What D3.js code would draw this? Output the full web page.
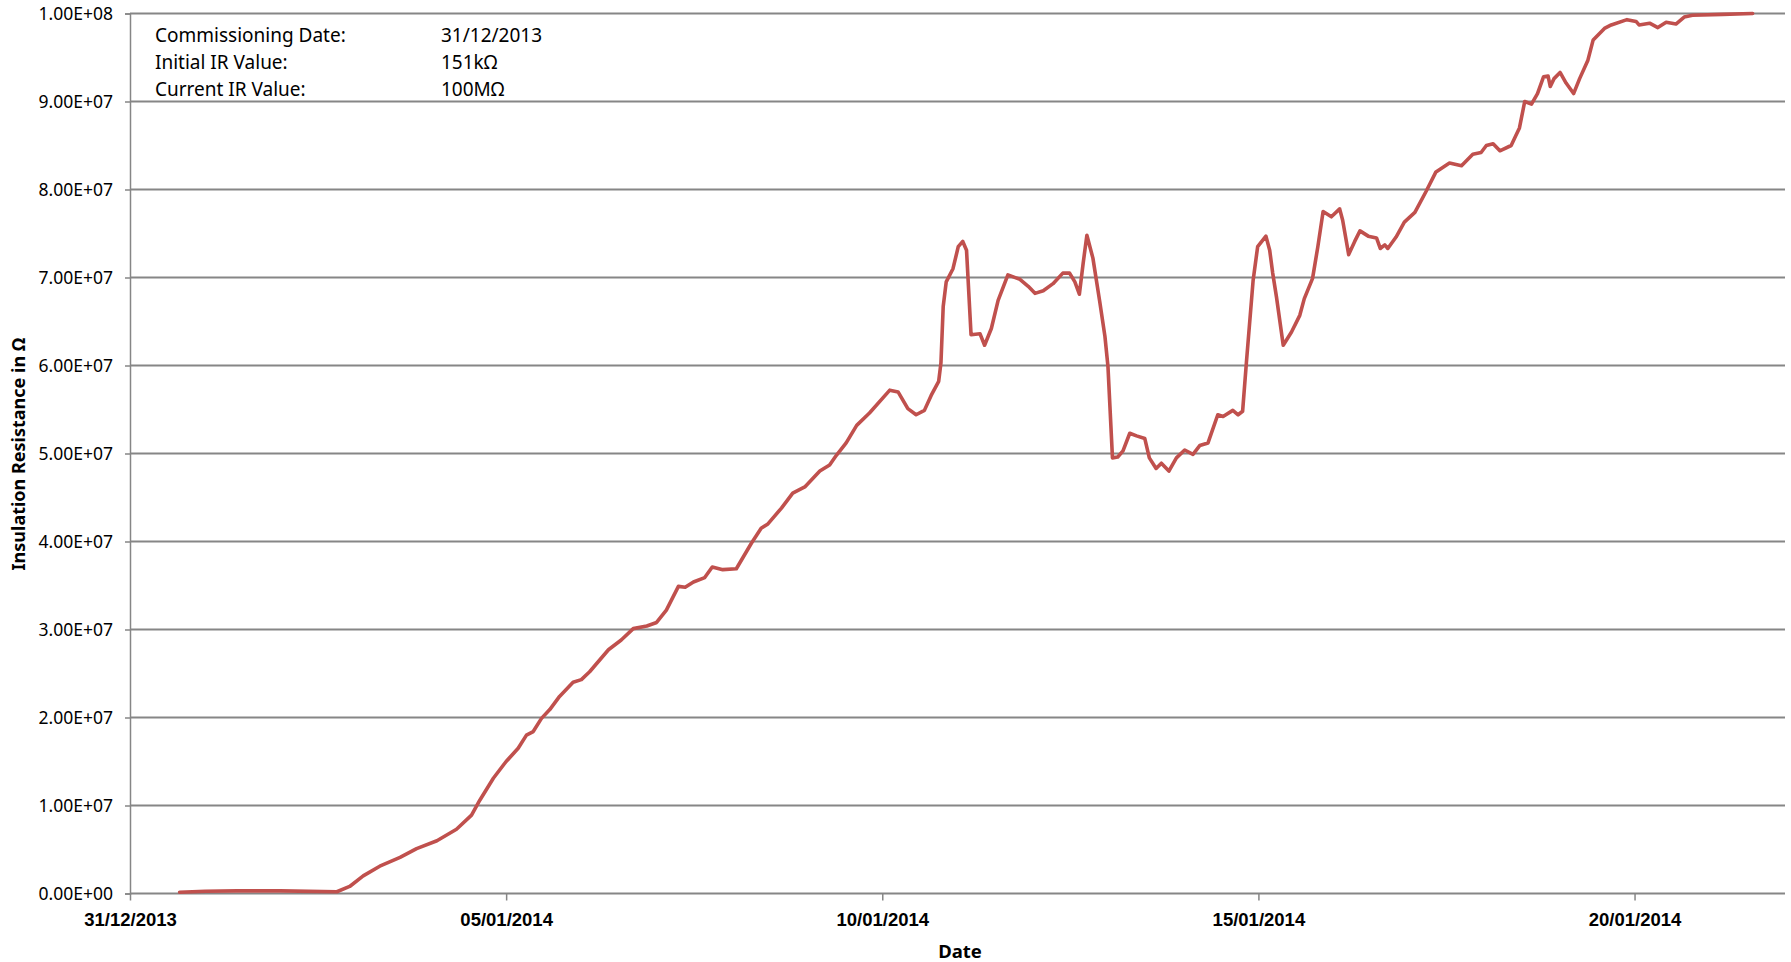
<!DOCTYPE html>
<html>
<head>
<meta charset="utf-8">
<script src="https://cdn.jsdelivr.net/npm/d3@7"></script>
<style>
  html, body { margin: 0; padding: 0; background: #fff; }
  svg { display: block; font-family: "Noto Sans", "Open Sans", sans-serif; }
</style>
</head>
<body>
<svg id="chart" width="1791" height="962"></svg>
<script>
// days after commissioning (31/12/2013 00:00) and insulation resistance in MΩ
const dayOffsets = [
  0.66, 1.0, 1.42, 2.0, 2.75, 2.92, 3.10, 3.32, 3.59, 3.81, 4.08, 4.34, 4.54, 4.65, 4.83,
  5.00, 5.16, 5.27, 5.36, 5.47, 5.58, 5.71, 5.89, 6.00, 6.11, 6.36, 6.53, 6.69, 6.87, 7.00,
  7.13, 7.29, 7.38, 7.49, 7.64, 7.74, 7.88, 8.06, 8.26, 8.39, 8.48, 8.66, 8.81, 8.97, 9.17,
  9.30, 9.39, 9.52, 9.66, 9.83, 10.10, 10.21, 10.34, 10.45, 10.56, 10.65, 10.75, 10.78, 10.81, 10.85,
  10.94, 11.01, 11.07, 11.12, 11.18, 11.30, 11.36, 11.45, 11.54, 11.67, 11.83, 11.94, 12.03, 12.14, 12.27,
  12.40, 12.49, 12.56, 12.62, 12.67, 12.72, 12.80, 12.89, 12.96, 13.00, 13.06, 13.13, 13.20, 13.29, 13.38,
  13.49, 13.55, 13.64, 13.71, 13.81, 13.91, 14.02, 14.13, 14.22, 14.33, 14.46, 14.53, 14.66, 14.73, 14.79,
  14.84, 14.93, 14.99, 15.10, 15.15, 15.19, 15.24, 15.33, 15.44, 15.55, 15.61, 15.72, 15.79, 15.86, 15.97,
  16.08, 16.12, 16.20, 16.28, 16.35, 16.46, 16.57, 16.62, 16.68, 16.72, 16.83, 16.94, 17.08, 17.23, 17.36,
  17.54, 17.70, 17.85, 17.96, 18.03, 18.12, 18.21, 18.36, 18.41, 18.47, 18.54, 18.63, 18.71, 18.79, 18.85,
  18.88, 18.93, 19.01, 19.09, 19.19, 19.27, 19.38, 19.45, 19.60, 19.69, 19.90, 20.02, 20.06, 20.20, 20.31,
  20.42, 20.55, 20.66, 20.77, 21.17, 21.57
];
const irMOhm = [
  0.15, 0.25, 0.3, 0.3, 0.2, 0.8, 2.0, 3.1, 4.1, 5.1, 6.0, 7.3, 8.9, 10.6, 13.1,
  15.0, 16.5, 18.0, 18.4, 19.9, 20.9, 22.4, 24.0, 24.3, 25.2, 27.7, 28.8, 30.1, 30.4, 30.8,
  32.2, 34.9, 34.8, 35.4, 35.9, 37.1, 36.8, 36.9, 39.8, 41.5, 42.0, 43.8, 45.5, 46.2, 48.0,
  48.7, 49.8, 51.2, 53.2, 54.6, 57.2, 57.0, 55.1, 54.4, 54.9, 56.6, 58.2, 60.3, 66.7, 69.5,
  71.0, 73.5, 74.1, 73.1, 63.5, 63.6, 62.3, 64.2, 67.4, 70.3, 69.8, 69.0, 68.2, 68.5, 69.3,
  70.5, 70.5, 69.5, 68.1, 71.6, 74.8, 72.2, 67.3, 63.3, 59.9, 49.5, 49.6, 50.3, 52.3, 52.0,
  51.7, 49.5, 48.3, 48.9, 48.0, 49.5, 50.4, 49.9, 50.9, 51.2, 54.4, 54.2, 54.9, 54.4, 54.8,
  60.3, 69.7, 73.5, 74.7, 73.1, 70.5, 67.8, 62.3, 63.8, 65.7, 67.6, 69.9, 73.5, 77.5, 76.9,
  77.8, 76.5, 72.6, 74.1, 75.3, 74.7, 74.5, 73.3, 73.7, 73.3, 74.6, 76.3, 77.4, 79.8, 82.0,
  83.0, 82.7, 84.0, 84.2, 85.0, 85.2, 84.4, 85.0, 85.9, 87.0, 90.0, 89.7, 90.9, 92.8, 92.9,
  91.7, 92.6, 93.3, 92.1, 90.9, 92.6, 94.7, 97.0, 98.3, 98.7, 99.3, 99.1, 98.7, 98.9, 98.4,
  99.0, 98.8, 99.6, 99.8, 99.9, 100.0
];
const xTickLabels = ["31/12/2013", "05/01/2014", "10/01/2014", "15/01/2014", "20/01/2014"];
const infoLabels = ["Commissioning Date:", "Initial IR Value:", "Current IR Value:"];
const infoValues = ["31/12/2013", "151kΩ", "100MΩ"];

const parseDay = d3.timeParse("%d/%m/%Y");
const start = parseDay("31/12/2013");
const end = parseDay("22/01/2014");
const data = dayOffsets.map((d, i) => ({
  date: new Date(start.getTime() + d * 864e5),
  value: irMOhm[i] * 1e6
}));

const margin = { left: 130, right: 6, top: 13.5, bottom: 68.5 };
const W = 1791, H = 962;
const svg = d3.select("#chart");
svg.append("rect").attr("width", W).attr("height", H).attr("fill", "#fff");

const x = d3.scaleTime().domain([start, end]).range([margin.left, W - margin.right]);
const y = d3.scaleLinear().domain([0, 1e8]).range([H - margin.bottom, margin.top]);

// Excel style 0.00E+00
const sci = v => {
  if (v === 0) return "0.00E+00";
  const e = Math.floor(Math.log10(v));
  const m = v / Math.pow(10, e);
  return m.toFixed(2) + "E+" + String(e).padStart(2, "0");
};

// gridlines + y axis
const yAxis = d3.axisLeft(y).ticks(10).tickFormat(sci).tickSize(5).tickPadding(12);
const gy = svg.append("g").attr("transform", `translate(${margin.left},0)`).call(yAxis);
gy.select(".domain").attr("stroke", "#868686").attr("stroke-width", 1.5);
gy.selectAll(".tick line").attr("stroke", "#868686").attr("stroke-width", 1.5);
gy.selectAll(".tick text").attr("font-size", 17.5).attr("fill", "#000")
  .attr("font-family", "Noto Sans");

svg.append("g").selectAll("line").data(y.ticks(10)).join("line")
  .attr("x1", margin.left).attr("x2", W - margin.right)
  .attr("y1", d => y(d)).attr("y2", d => y(d))
  .attr("stroke", "#868686").attr("stroke-width", 1.8);

// x axis
const xTicks = xTickLabels.map(parseDay);
const xAxis = d3.axisBottom(x).tickValues(xTicks).tickFormat(d3.timeFormat("%d/%m/%Y"))
  .tickSize(7).tickPadding(12);
const gx = svg.append("g").attr("transform", `translate(0,${y(0)})`).call(xAxis);
gx.select(".domain").remove();
gx.selectAll(".tick line").attr("stroke", "#868686").attr("stroke-width", 1.5);
gx.selectAll(".tick text").attr("font-size", 18.5).attr("font-weight", "bold").attr("fill", "#000");

// series
const line = d3.line().x(d => x(d.date)).y(d => y(d.value));
svg.append("path").datum(data)
  .attr("d", line)
  .attr("fill", "none")
  .attr("stroke", "#C0504D")
  .attr("stroke-width", 3.6)
  .attr("stroke-linejoin", "round")
  .attr("stroke-linecap", "round");

// axis titles
svg.append("text").attr("x", 960).attr("y", 950).attr("text-anchor", "middle")
  .attr("dominant-baseline", "central")
  .attr("font-size", 18.5).attr("font-weight", "bold").text("Date");
svg.append("text").attr("transform", "translate(18,454) rotate(-90)")
  .attr("text-anchor", "middle").attr("dominant-baseline", "central")
  .attr("font-size", 18).attr("font-weight", "bold").text("Insulation Resistance in Ω");

// info block
const info = svg.append("g");
info.selectAll("text.lbl").data(infoLabels).join("text").attr("class", "lbl")
  .attr("x", 155).attr("y", (d, i) => 34.5 + i * 27)
  .attr("dominant-baseline", "central").attr("font-size", 19).text(d => d);
info.selectAll("text.val").data(infoValues).join("text").attr("class", "val")
  .attr("x", 441).attr("y", (d, i) => 34.5 + i * 27)
  .attr("dominant-baseline", "central").attr("font-size", 19).text(d => d);
</script>
</body>
</html>
